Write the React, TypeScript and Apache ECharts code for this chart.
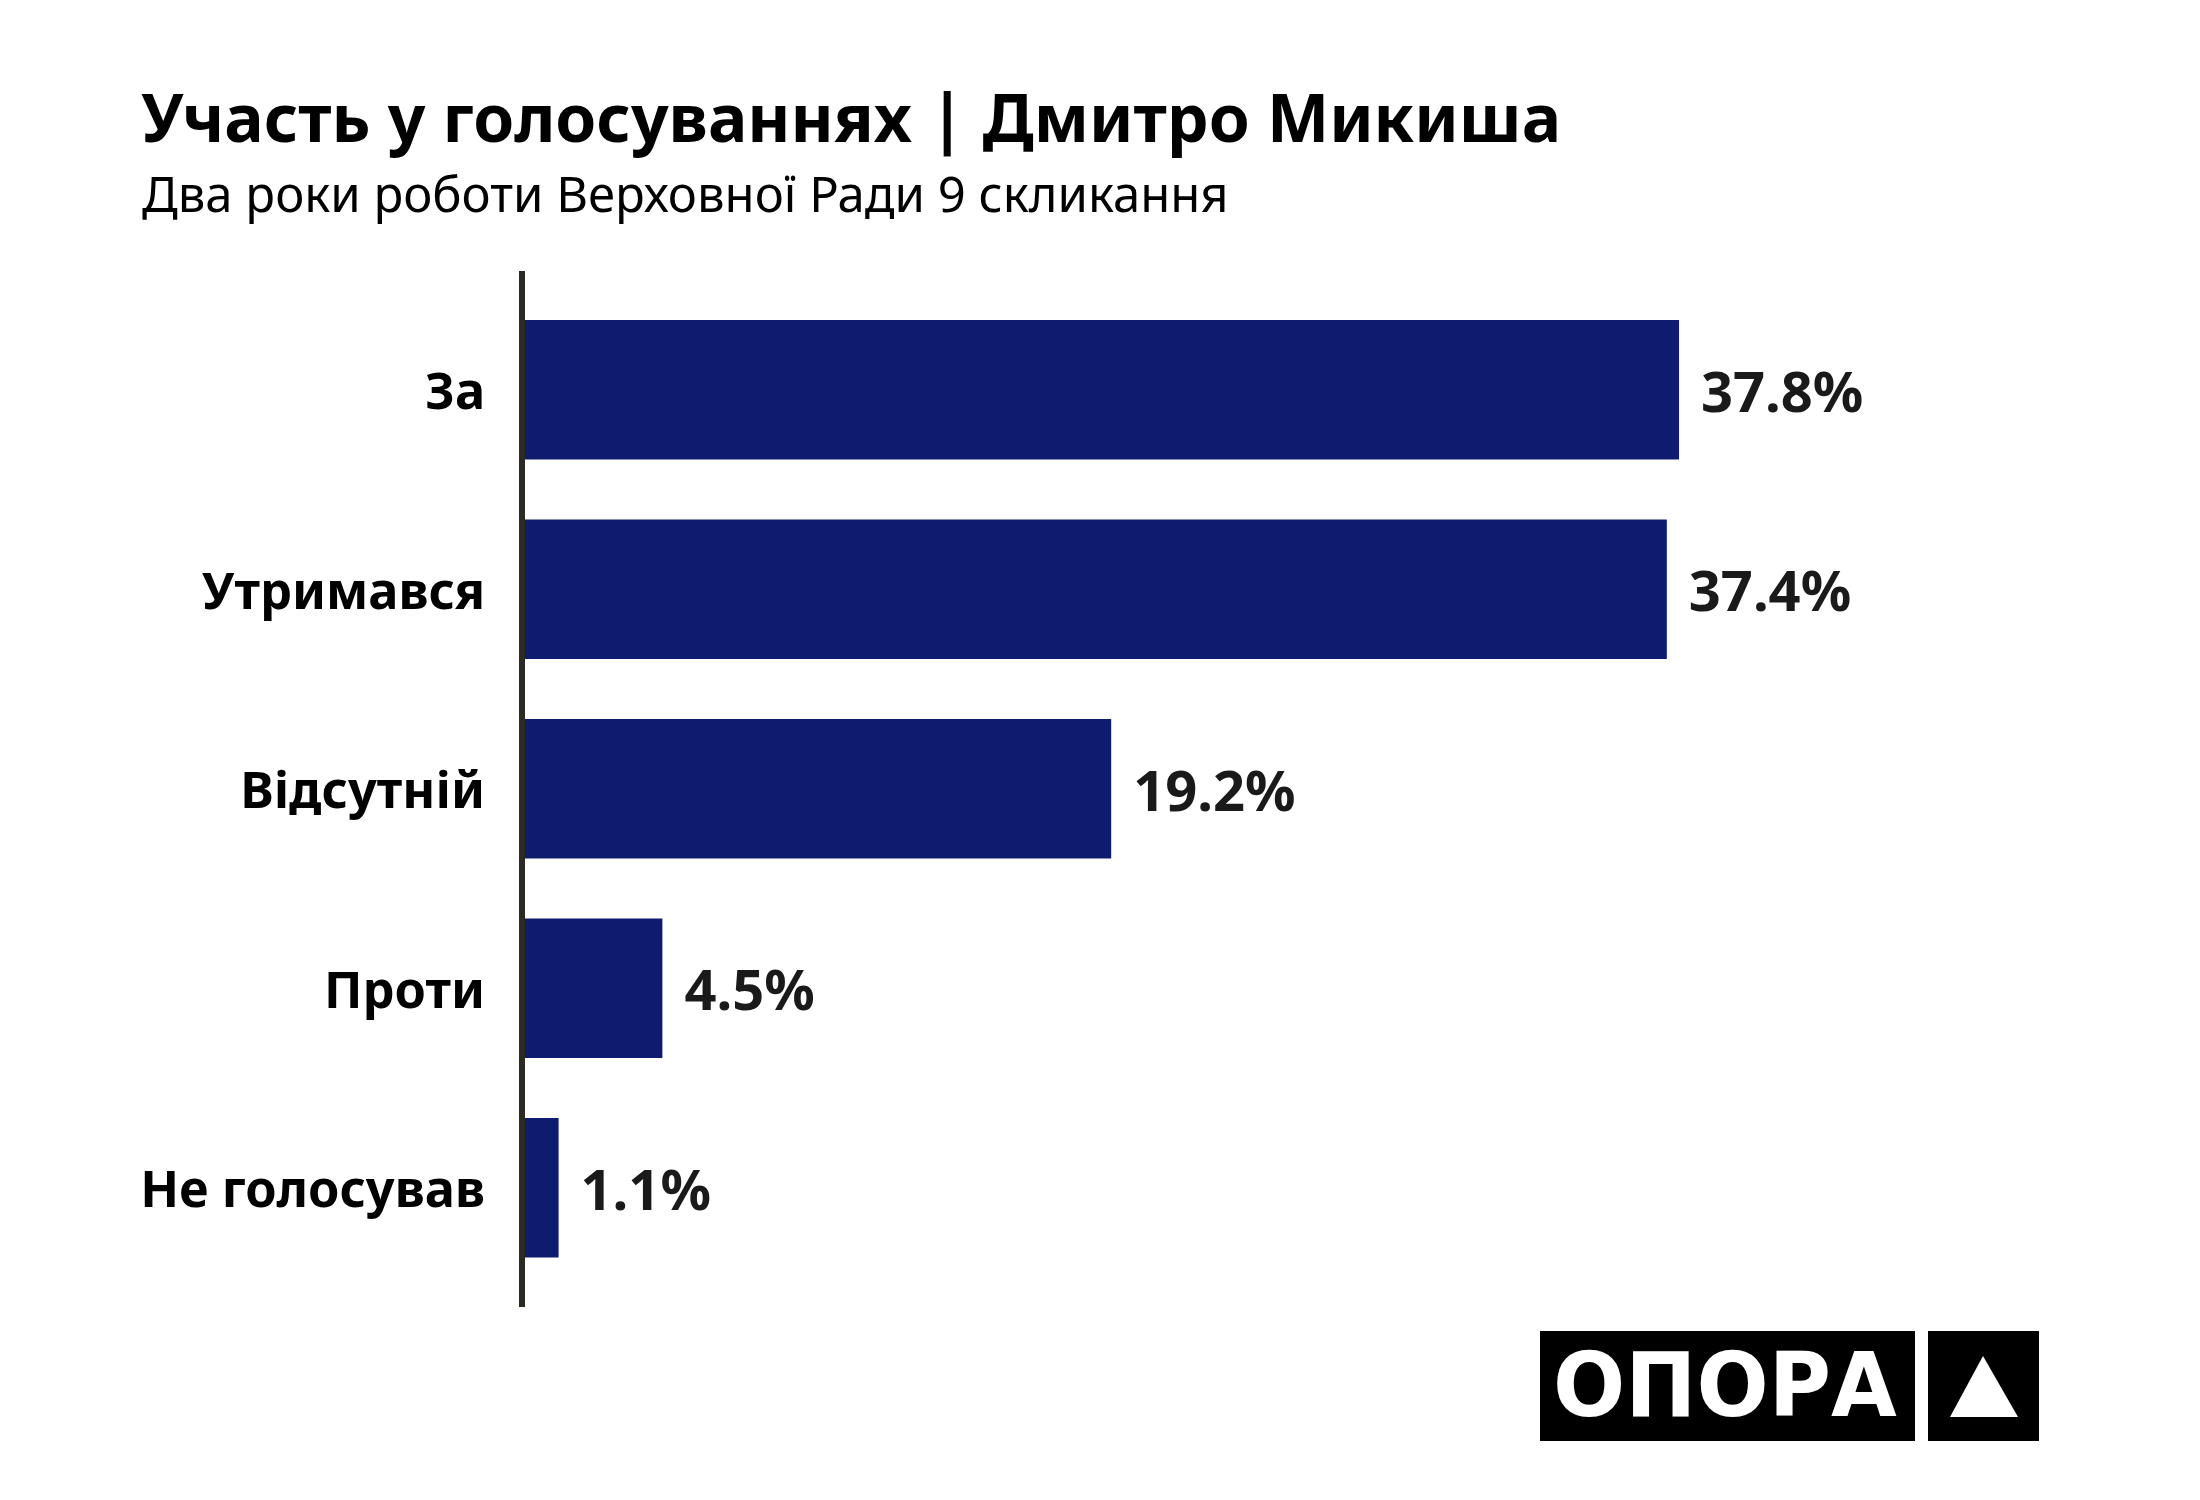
import React, { useEffect, useRef } from "react";
import * as echarts from "echarts";

const categories = ["За", "Утримався", "Відсутній", "Проти", "Не голосував"];
const values = [37.8, 37.4, 19.2, 4.5, 1.1];
const titleText = "Участь у голосуваннях | Дмитро Микиша";
const subtitleText = "Два роки роботи Верховної Ради 9 скликання";
const logoText = "ОПОРА";

export default function App() {
  const ref = useRef<HTMLDivElement>(null);
  useEffect(() => {
    if (!ref.current) return;
    const chart = echarts.init(ref.current, undefined, { renderer: "svg" });
    chart.setOption({
      animation: false,
      backgroundColor: "#ffffff",
      title: [
        {
          text: titleText,
          left: 141,
          top: 83,
          padding: 0,
          textStyle: { fontFamily: "Noto Sans", fontWeight: "bold", fontSize: 66, color: "#000000" },
        },
        {
          text: subtitleText,
          left: 142,
          top: 168,
          padding: 0,
          textStyle: { fontFamily: "Noto Sans", fontWeight: "normal", fontSize: 49, color: "#000000" },
        },
      ],
      grid: { left: 525, top: 290, right: 148.5, bottom: 212.5, containLabel: false },
      xAxis: {
        type: "value",
        min: 0,
        max: 50,
        show: false,
      },
      yAxis: {
        type: "category",
        inverse: true,
        data: categories,
        axisLine: { show: false },
        axisTick: { show: false },
        axisLabel: {
          margin: 40,
          fontFamily: "Noto Sans",
          fontWeight: "bold",
          fontSize: 50.5,
          color: "#000000",
        },
      },
      series: [
        {
          type: "bar",
          data: values,
          barCategoryGap: "30%",
          itemStyle: { color: "#0e1c6f" },
          label: {
            show: true,
            position: "right",
            distance: 22,
            formatter: (p: any) => Number(p.value).toFixed(1) + "%",
            fontFamily: "Noto Sans",
            fontWeight: "bold",
            fontSize: 56,
            color: "#1a1a1a",
          },
        },
      ],
      graphic: [
        {
          type: "line",
          shape: { x1: 522, y1: 271, x2: 522, y2: 1307 },
          style: { stroke: "#2b2b24", lineWidth: 6 },
          z: 10,
        },
        {
          type: "rect",
          shape: { x: 1540, y: 1331, width: 375, height: 110 },
          style: { fill: "#000000" },
        },
        {
          type: "text",
          x: 1553,
          y: 1385,
          scaleX: 0.955,
          style: {
            text: logoText,
            font: "bold 89px 'DejaVu Sans'",
            fill: "#ffffff",
            textVerticalAlign: "middle",
          },
        },
        {
          type: "rect",
          shape: { x: 1928, y: 1331, width: 111, height: 110 },
          style: { fill: "#000000" },
        },
        {
          type: "polygon",
          shape: { points: [[1983, 1356], [2018, 1417], [1950, 1417]] },
          style: { fill: "#ffffff" },
        },
      ],
    });
    return () => chart.dispose();
  }, []);
  return (
    <div
      ref={ref}
      style={{ position: "fixed", left: 0, top: 0, width: 2200, height: 1500, background: "#fff" }}
    />
  );
}
